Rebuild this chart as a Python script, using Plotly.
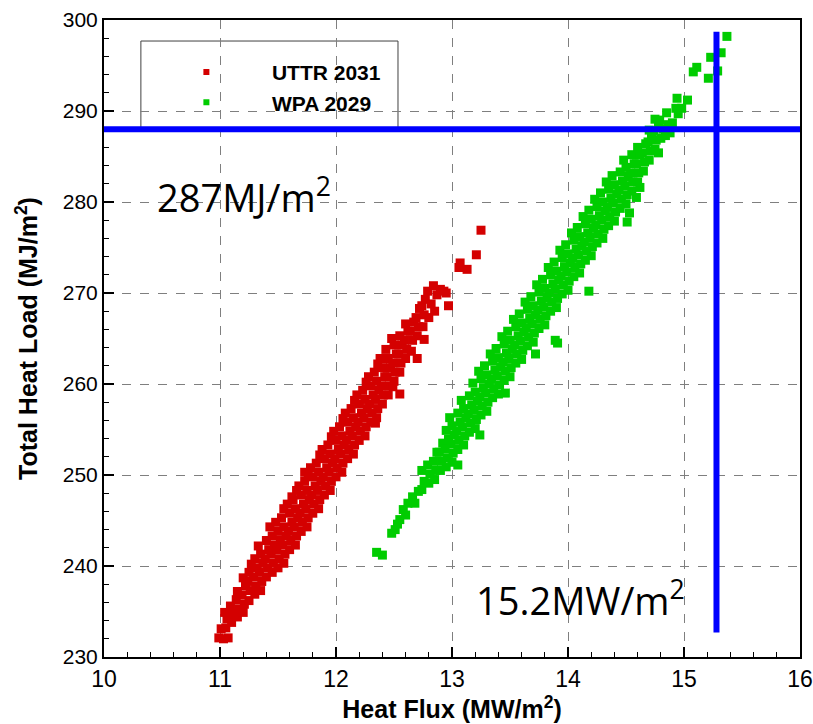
import plotly.graph_objects as go

# ---------------- data ----------------
series_names = ["UTTR 2031", "WPA 2029"]
series_colors = ["#d40000", "#00cc00"]

red_points = [
    (10.99, 232.1), (11.03, 232.0), (11.07, 232.1), (11.01, 233.1),
    (11.05, 233.2), (11.06, 234.2), (11.04, 234.9),
    (11.10, 233.8), (11.11, 234.7), (11.09, 235.6),
    (11.15, 234.4), (11.16, 235.3), (11.14, 236.3), (11.15, 237.2),
    (11.20, 234.9), (11.21, 235.8), (11.19, 236.8), (11.22, 237.8), (11.20, 238.7),
    (11.25, 236.2), (11.26, 237.3), (11.24, 238.3), (11.25, 239.3), (11.27, 240.2),
    (11.30, 236.9), (11.31, 237.8), (11.29, 238.8), (11.32, 239.8), (11.30, 240.8),
    (11.35, 237.3), (11.36, 238.3), (11.34, 239.3), (11.37, 240.3), (11.35, 241.3), (11.33, 242.2),
    (11.40, 238.8), (11.41, 239.8), (11.39, 240.8), (11.42, 241.8), (11.40, 242.8),
    (11.45, 239.3), (11.46, 240.3), (11.44, 241.3), (11.47, 242.3), (11.45, 243.3), (11.43, 244.3),
    (11.50, 239.8), (11.51, 240.8), (11.49, 241.8), (11.52, 242.8), (11.50, 243.8), (11.48, 244.8),
    (11.55, 240.3), (11.56, 241.3), (11.54, 242.3), (11.57, 243.3), (11.55, 244.3), (11.53, 245.3), (11.55, 246.3),
    (11.60, 241.8), (11.61, 242.8), (11.59, 243.8), (11.62, 244.8), (11.60, 245.8), (11.58, 246.8), (11.62, 247.6),
    (11.65, 242.3), (11.66, 243.3), (11.64, 244.3), (11.67, 245.3), (11.65, 246.3), (11.63, 247.3), (11.66, 248.3),
    (11.70, 243.8), (11.71, 244.8), (11.69, 245.8), (11.72, 246.8), (11.70, 247.8), (11.68, 248.8),
    (11.75, 244.3), (11.76, 245.3), (11.74, 246.3), (11.77, 247.3), (11.75, 248.3), (11.73, 249.3), (11.76, 250.2),
    (11.80, 245.8), (11.81, 246.8), (11.79, 247.8), (11.82, 248.8), (11.80, 249.8), (11.78, 250.8),
    (11.85, 246.3), (11.86, 247.3), (11.84, 248.3), (11.87, 249.3), (11.85, 250.3), (11.83, 251.3), (11.86, 252.2),
    (11.90, 247.8), (11.91, 248.8), (11.89, 249.8), (11.92, 250.8), (11.90, 251.8), (11.88, 252.8),
    (11.95, 248.3), (11.96, 249.3), (11.94, 250.3), (11.97, 251.3), (11.95, 252.3), (11.93, 253.3), (11.96, 254.2),
    (12.00, 249.8), (12.01, 250.8), (11.99, 251.8), (12.02, 252.8), (12.00, 253.8), (11.98, 254.8),
    (12.05, 250.3), (12.06, 251.3), (12.04, 252.3), (12.07, 253.3), (12.05, 254.3), (12.03, 255.3), (12.06, 256.2),
    (12.10, 251.8), (12.11, 252.8), (12.09, 253.8), (12.12, 254.8), (12.10, 255.8), (12.08, 256.8),
    (12.15, 252.3), (12.16, 253.3), (12.14, 254.3), (12.17, 255.3), (12.15, 256.3), (12.13, 257.3), (12.16, 258.2),
    (12.20, 253.8), (12.21, 254.8), (12.19, 255.8), (12.22, 256.8), (12.20, 257.8), (12.18, 258.8),
    (12.25, 254.3), (12.26, 255.3), (12.24, 256.3), (12.27, 257.3), (12.25, 258.3), (12.23, 259.3), (12.26, 260.2),
    (12.30, 255.8), (12.31, 256.8), (12.29, 257.8), (12.32, 258.8), (12.30, 259.8), (12.28, 260.8),
    (12.35, 256.3), (12.36, 257.3), (12.34, 258.3), (12.37, 259.3), (12.35, 260.3), (12.33, 261.3), (12.36, 262.2),
    (12.40, 257.8), (12.41, 258.8), (12.39, 259.8), (12.42, 260.8), (12.40, 261.8), (12.38, 262.8),
    (12.45, 258.8), (12.46, 259.8), (12.44, 260.8), (12.47, 261.8), (12.45, 262.8), (12.43, 263.8),
    (12.50, 260.3), (12.51, 261.3), (12.49, 262.3), (12.52, 263.3), (12.50, 264.3), (12.48, 265.0),
    (12.55, 261.3), (12.56, 262.3), (12.54, 263.3), (12.57, 264.3), (12.55, 265.3),
    (12.60, 262.8), (12.61, 263.8), (12.59, 264.8), (12.62, 265.8), (12.60, 266.6),
    (12.65, 263.6), (12.66, 264.8), (12.64, 265.8), (12.67, 266.8),
    (12.70, 265.3), (12.71, 266.3), (12.69, 267.3), (12.72, 268.3),
    (12.75, 266.3), (12.76, 267.6), (12.74, 268.6), (12.77, 269.3),
    (12.80, 267.3), (12.82, 268.8), (12.79, 270.2),
    (12.85, 268.0), (12.87, 269.8), (12.84, 270.8),
    (12.90, 270.4), (12.93, 270.2), (12.95, 270.0),
    (13.25, 276.9), (13.21, 274.2), (13.07, 273.3), (13.13, 272.6), (13.06, 272.8),
    (12.97, 268.6), (12.76, 264.9), (12.70, 262.8), (12.55, 258.9), (12.34, 255.7),
    (12.49, 259.7), (11.73, 250.3),
]

green_points = [
    (12.35, 241.5), (12.40, 241.2), (12.48, 243.6), (12.51, 244.0), (12.53, 244.6),
    (12.55, 245.1), (12.58, 246.2), (12.60, 245.6), (12.62, 246.9), (12.66, 247.6),
    (12.68, 246.9), (12.71, 248.2), (12.74, 248.4), (12.76, 249.3), (12.74, 250.5),
    (12.80, 249.1), (12.81, 250.1), (12.79, 251.1),
    (12.85, 249.5), (12.86, 250.5), (12.84, 251.5), (12.87, 252.5),
    (12.90, 250.5), (12.91, 251.5), (12.89, 252.5), (12.92, 253.5),
    (12.95, 250.9), (12.96, 251.9), (12.94, 252.9), (12.97, 253.9), (12.95, 254.9),
    (13.00, 251.4), (13.01, 252.4), (12.99, 253.4), (13.02, 254.4), (13.00, 255.4), (12.98, 256.3),
    (13.05, 252.8), (13.06, 253.8), (13.04, 254.8), (13.07, 255.8), (13.05, 256.8),
    (13.10, 253.3), (13.11, 254.3), (13.09, 255.3), (13.12, 256.3), (13.10, 257.3), (13.08, 258.2),
    (13.15, 254.7), (13.16, 255.7), (13.14, 256.7), (13.17, 257.7), (13.15, 258.7),
    (13.20, 255.1), (13.21, 256.1), (13.19, 257.1), (13.22, 258.1), (13.20, 259.1), (13.18, 260.1),
    (13.25, 256.6), (13.26, 257.6), (13.24, 258.6), (13.27, 259.6), (13.25, 260.6), (13.23, 261.4),
    (13.30, 257.0), (13.31, 258.0), (13.29, 259.0), (13.32, 260.0), (13.30, 261.0), (13.28, 262.0),
    (13.35, 258.5), (13.36, 259.5), (13.34, 260.5), (13.37, 261.5), (13.35, 262.5), (13.33, 263.3),
    (13.40, 258.9), (13.41, 259.9), (13.39, 260.9), (13.42, 261.9), (13.40, 262.9), (13.38, 263.9),
    (13.45, 260.4), (13.46, 261.4), (13.44, 262.4), (13.47, 263.4), (13.45, 264.4), (13.43, 265.2),
    (13.50, 260.8), (13.51, 261.8), (13.49, 262.8), (13.52, 263.8), (13.50, 264.8), (13.48, 265.8),
    (13.55, 262.3), (13.56, 263.3), (13.54, 264.3), (13.57, 265.3), (13.55, 266.3), (13.53, 267.1),
    (13.60, 262.7), (13.61, 263.7), (13.59, 264.7), (13.62, 265.7), (13.60, 266.7), (13.58, 267.7),
    (13.65, 264.2), (13.66, 265.2), (13.64, 266.2), (13.67, 267.2), (13.65, 268.2), (13.63, 269.0),
    (13.70, 264.6), (13.71, 265.6), (13.69, 266.6), (13.72, 267.6), (13.70, 268.6), (13.68, 269.6),
    (13.75, 266.1), (13.76, 267.1), (13.74, 268.1), (13.77, 269.1), (13.75, 270.1), (13.73, 270.9),
    (13.80, 266.5), (13.81, 267.5), (13.79, 268.5), (13.82, 269.5), (13.80, 270.5), (13.78, 271.5),
    (13.85, 268.0), (13.86, 269.0), (13.84, 270.0), (13.87, 271.0), (13.85, 272.0), (13.83, 272.8),
    (13.90, 268.4), (13.91, 269.4), (13.89, 270.4), (13.92, 271.4), (13.90, 272.4), (13.88, 273.4),
    (13.95, 269.9), (13.96, 270.9), (13.94, 271.9), (13.97, 272.9), (13.95, 273.9), (13.93, 274.7),
    (14.00, 270.3), (14.01, 271.3), (13.99, 272.3), (14.02, 273.3), (14.00, 274.3), (13.98, 275.3),
    (14.05, 271.8), (14.06, 272.8), (14.04, 273.8), (14.07, 274.8), (14.05, 275.8), (14.03, 276.6),
    (14.10, 272.2), (14.11, 273.2), (14.09, 274.2), (14.12, 275.2), (14.10, 276.2), (14.08, 277.2),
    (14.15, 273.6), (14.16, 274.6), (14.14, 275.6), (14.17, 276.6), (14.15, 277.6), (14.13, 278.4),
    (14.20, 274.1), (14.21, 275.1), (14.19, 276.1), (14.22, 277.1), (14.20, 278.1), (14.18, 279.1),
    (14.25, 275.5), (14.26, 276.5), (14.24, 277.5), (14.27, 278.5), (14.25, 279.5), (14.23, 280.3),
    (14.30, 276.0), (14.31, 277.0), (14.29, 278.0), (14.32, 279.0), (14.30, 280.0), (14.28, 281.0),
    (14.35, 277.4), (14.36, 278.4), (14.34, 279.4), (14.37, 280.4), (14.35, 281.4), (14.33, 282.2),
    (14.40, 277.9), (14.41, 278.9), (14.39, 279.9), (14.42, 280.9), (14.40, 281.9), (14.38, 282.9),
    (14.45, 279.3), (14.46, 280.3), (14.44, 281.3), (14.47, 282.3), (14.45, 283.3),
    (14.50, 279.8), (14.51, 280.8), (14.49, 281.8), (14.52, 282.8), (14.50, 283.8), (14.48, 284.6),
    (14.55, 281.2), (14.56, 282.2), (14.54, 283.2), (14.57, 284.2), (14.55, 285.2),
    (14.60, 282.2), (14.61, 283.2), (14.59, 284.2), (14.62, 285.2), (14.60, 286.0),
    (14.65, 283.4), (14.66, 284.4), (14.64, 285.4), (14.67, 286.4),
    (14.70, 284.6), (14.71, 285.6), (14.69, 286.6), (14.72, 287.4),
    (14.75, 285.8), (14.76, 286.8), (14.74, 287.8),
    (14.80, 287.0), (14.82, 288.0), (14.78, 288.6),
    (14.70, 287.9), (14.84, 287.3), (14.88, 287.6),
    (13.89, 264.8), (13.91, 264.5), (14.18, 270.2), (13.72, 263.3), (13.05, 251.1),
    (13.24, 254.4), (13.46, 259.0), (14.59, 280.5), (14.78, 285.4), (14.51, 277.8),
    (14.53, 278.8), (14.62, 281.6),
    (14.94, 291.4), (15.03, 291.2), (14.98, 290.3), (14.93, 290.3), (14.95, 289.7),
    (14.85, 289.8), (14.75, 289.1), (14.90, 288.7), (14.79, 289.0), (14.86, 288.5),
    (15.08, 294.3), (15.11, 294.8), (15.21, 293.6), (15.23, 295.9), (15.32, 296.4),
    (15.37, 298.2), (15.29, 294.4),
]

red_x = [p[0] for p in red_points]
red_y = [p[1] for p in red_points]
green_x = [p[0] for p in green_points]
green_y = [p[1] for p in green_points]

limit_load = 288.0          # horizontal blue line (MJ/m2)
limit_flux = 15.28          # vertical blue line (MW/m2)
limit_flux_span = [232.7, 298.7]
label_load = "287MJ/m<sup>2</sup>"
label_flux = "15.2MW/m<sup>2</sup>"

x_range = [10, 16]
y_range = [230, 300]

# ---------------- figure ----------------
fig = go.Figure()
for name, color, xs, ys in [(series_names[0], series_colors[0], red_x, red_y),
                            (series_names[1], series_colors[1], green_x, green_y)]:
    fig.add_trace(go.Scatter(
        x=xs, y=ys, mode="markers", name=name, showlegend=False, legendgroup=name,
        marker=dict(symbol="square", size=9, color=color, line=dict(width=0)),
    ))
# legend entries with the small legend symbol
for name, color in zip(series_names, series_colors):
    fig.add_trace(go.Scatter(
        x=[None], y=[None], mode="markers", name="<b>" + name + "</b>", legendgroup=name,
        marker=dict(symbol="square", size=6, color=color, line=dict(width=0)),
    ))

# blue limit lines
fig.add_shape(type="line", xref="x", yref="y", x0=x_range[0], x1=x_range[1],
              y0=limit_load, y1=limit_load, line=dict(color="#0000ff", width=6), layer="above")
fig.add_shape(type="line", xref="x", yref="y", x0=limit_flux, x1=limit_flux,
              y0=limit_flux_span[0], y1=limit_flux_span[1],
              line=dict(color="#0000ff", width=6), layer="above")

# legend frame
fig.add_shape(type="rect", xref="paper", yref="paper",
              x0=0.053, x1=0.4224, y0=0.8305, y1=0.967,
              line=dict(color="#404040", width=1), fillcolor="white", layer="below")

fig.add_annotation(x=10.44, y=280.7, xref="x", yref="y", text=label_load, showarrow=False,
                   xanchor="left", yanchor="middle",
                   font=dict(family="Open Sans, Noto Sans, sans-serif", size=38, color="black"))
fig.add_annotation(x=13.19, y=236.4, xref="x", yref="y", text=label_flux, showarrow=False,
                   xanchor="left", yanchor="middle",
                   font=dict(family="Open Sans, Noto Sans, sans-serif", size=38, color="black"))

axis_common = dict(
    showline=True, linecolor="black", linewidth=2, mirror=True,
    ticks="inside", ticklen=10, tickwidth=2, tickcolor="black",
    showgrid=True, gridcolor="#7f7f7f", gridwidth=1, griddash="dash",
    zeroline=False, automargin=False,
)

fig.update_xaxes(
    range=x_range, dtick=1, tick0=10,
    minor=dict(ticks="inside", ticklen=5, tickwidth=1, tickcolor="black", dtick=0.2, showgrid=False),
    tickfont=dict(family="Liberation Sans Narrow, Arial Narrow, Liberation Sans, Arial", size=23, color="black"),
    title=dict(text="<b>Heat Flux (MW/m<sup>2</sup>)</b>", standoff=8,
               font=dict(family="Liberation Sans, Arial", size=25, color="black")),
    **axis_common,
)
fig.update_yaxes(
    range=y_range, dtick=10, tick0=230,
    minor=dict(ticks="inside", ticklen=5, tickwidth=1, tickcolor="black", dtick=2, showgrid=False),
    tickfont=dict(family="Liberation Sans, Arial", size=21, color="black"),
    title=dict(text="<b>Total Heat Load (MJ/m<sup>2</sup>)</b>", standoff=18,
               font=dict(family="Liberation Sans, Arial", size=25, color="black")),
    **axis_common,
)

fig.update_layout(
    width=813, height=724,
    margin=dict(l=104, r=13, t=20, b=67),
    paper_bgcolor="white", plot_bgcolor="white",
    showlegend=True,
    legend=dict(
        x=0.053, y=0.95, xanchor="left", yanchor="top",
        bgcolor="rgba(0,0,0,0)", borderwidth=0,
        itemwidth=121, itemsizing="trace",
        font=dict(family="Liberation Sans, Arial", size=21, color="black"),
        tracegroupgap=0,
    ),
)

fig.write_html("out.html")
